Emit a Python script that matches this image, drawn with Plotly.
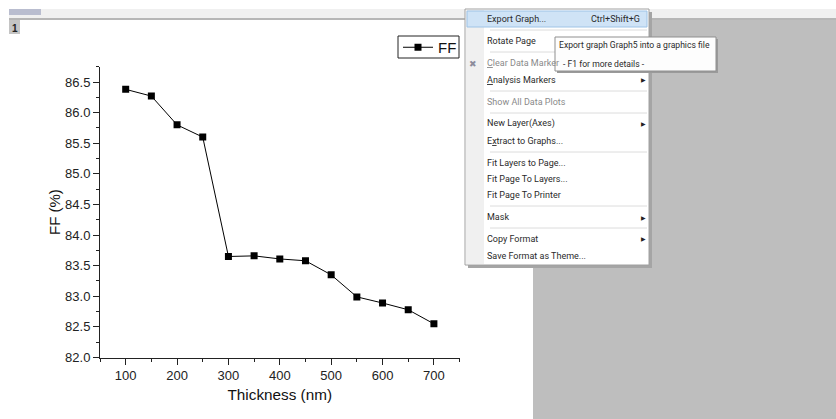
import plotly.graph_objects as go

W, H = 836, 419
PAGE_H = 427

thickness = [100, 150, 200, 250, 300, 350, 400, 450, 500, 550, 600, 650, 700]
ff = [86.38, 86.27, 85.80, 85.60, 83.65, 83.66, 83.61, 83.58, 83.35, 82.99, 82.89, 82.78, 82.55]
x_ticks = [100, 200, 300, 400, 500, 600, 700]
y_ticks = [82.0, 82.5, 83.0, 83.5, 84.0, 84.5, 85.0, 85.5, 86.0, 86.5]
series_name = "FF"
x_title = "Thickness (nm)"
y_title = "FF (%)"

menu_labels = ["Export Graph...", "Rotate Page", "<u>C</u>lear Data Marker", "<u>A</u>nalysis Markers",
               "Show All Data Plots", "New Layer(Axes)", "E<u>x</u>tract to Graphs...",
               "Fit Layers to Page...", "Fit Page To Layers...", "Fit Page To Printer",
               "Mask", "Copy Format", "Save Format as Theme..."]
menu_rows = [19, 41, 63, 80, 102, 124, 141, 162.5, 179, 195, 217, 239, 256]
menu_disabled = ["<u>C</u>lear Data Marker", "Show All Data Plots"]
menu_submenus = ["<u>A</u>nalysis Markers", "New Layer(Axes)", "Mask", "Copy Format"]
menu_separators = [30, 52, 91, 113, 152, 206, 228]

UI = "Roboto"
PLOT = "Liberation Sans"


def px(x):
    return x / W


def py(y):
    return 1 - y / H


shapes, notes = [], []


def rect(x0, y0, x1, y1, fill, line=None, width=1):
    shapes.append(dict(type="rect", xref="paper", yref="paper", x0=px(x0), x1=px(x1), y0=py(y1), y1=py(y0),
                       fillcolor=fill, line=dict(color=line or fill, width=width if line else 0), layer="above"))


def hline(x0, x1, y, color, width=1):
    shapes.append(dict(type="line", xref="paper", yref="paper", x0=px(x0), x1=px(x1), y0=py(y), y1=py(y),
                       line=dict(color=color, width=width), layer="above"))


def text(x, y, s, size=9, color="#2a2a2a", anchor="left", font=UI):
    notes.append(dict(xref="paper", yref="paper", x=px(x), y=py(y), text=s, showarrow=False, xanchor=anchor,
                      yanchor="middle", font=dict(family=font, size=size, color=color), borderpad=0, borderwidth=0))


# window chrome
rect(9, 9, 836, 18, "#f0f0f0")
rect(9, 9, 41, 15, "#b9bdcf")
hline(9, 836, 19, "#6e6e6e", 1.2)
rect(533, 20, 836, 419, "#bebebe")
rect(9, 20, 20, 34, "#c4c4c4")
text(14.5, 28, "<b>1</b>", size=10, color="#222222", anchor="center", font=PLOT)

# context menu
rect(468, 12, 652, 268, "#a5a5a5")
rect(465, 9, 649, 265, "#ffffff", "#a0a0a0")
rect(466, 10, 484, 264, "#f0f0f0")
rect(467, 11, 647, 27, "#cfe3f6", "#9ec3e6")
for y in menu_separators:
    hline(490, 647, y, "#dcdcdc", 1)
for label, y in zip(menu_labels, menu_rows):
    text(487, y, label, color="#8a8a8a" if label in menu_disabled else "#2a2a2a")
    if label in menu_submenus:
        text(643, y, "\u25b6", size=6, anchor="center", color="#222222")
text(640, 19, "Ctrl+Shift+G", anchor="right")
text(473, 64, "\u2716", size=9, anchor="center", color="#8c8c9c")

# tooltip
rect(557, 39, 718, 73, "#9a9a9a")
rect(555, 37, 716, 71, "#fdfdfd", "#8f8f8f")
text(559, 45, "Export graph Graph5 into a graphics file", size=8.6)
text(563, 64, "- F1 for more details -", size=8.6)

# legend frame
rect(398, 36, 459, 58, "white", "#222222")

fig = go.Figure(go.Scatter(
    x=thickness, y=ff, name=series_name, mode="lines+markers",
    line=dict(color="black", width=1),
    marker=dict(symbol="square", size=7, color="black"),
))

axis = dict(showgrid=False, zeroline=False, showline=True, linecolor="#222222", linewidth=1, ticks="outside",
            ticklen=6, tickwidth=1, tickcolor="#222222",
            tickfont=dict(family=PLOT, size=13, color="#222222"))

fig.update_layout(
    width=W, height=PAGE_H, autosize=False, margin=dict(l=0, r=0, t=0, b=PAGE_H - H),
    paper_bgcolor="white", plot_bgcolor="white",
    xaxis=dict(axis, domain=[px(100), px(459.6)], range=[50, 750], tickvals=x_ticks,
               ticktext=[str(v) for v in x_ticks],
               minor=dict(dtick=50, ticks="outside", ticklen=3, tickcolor="#222222", showgrid=False),
               title=dict(text=x_title, font=dict(family=PLOT, size=15.3, color="#111111"), standoff=7)),
    yaxis=dict(axis, domain=[py(357.5), py(66.7)], range=[82, 86.75], tickvals=y_ticks,
               ticktext=[f"{v:.1f}" for v in y_ticks],
               minor=dict(dtick=0.25, ticks="outside", ticklen=3, tickcolor="#222222", showgrid=False),
               title=dict(text=y_title, font=dict(family=PLOT, size=15, color="#111111"), standoff=0)),
    showlegend=True,
    legend=dict(x=px(398), y=py(31), xanchor="left", yanchor="top", borderwidth=0,
                bgcolor="rgba(0,0,0,0)", itemwidth=30, font=dict(family=PLOT, size=15, color="#111111")),
    shapes=shapes, annotations=notes,
)

fig.write_html("out.html", config=dict(displayModeBar=False), default_width="836px", default_height="427px",
               post_script="document.body.style.margin='0';document.body.style.overflow='hidden';")
